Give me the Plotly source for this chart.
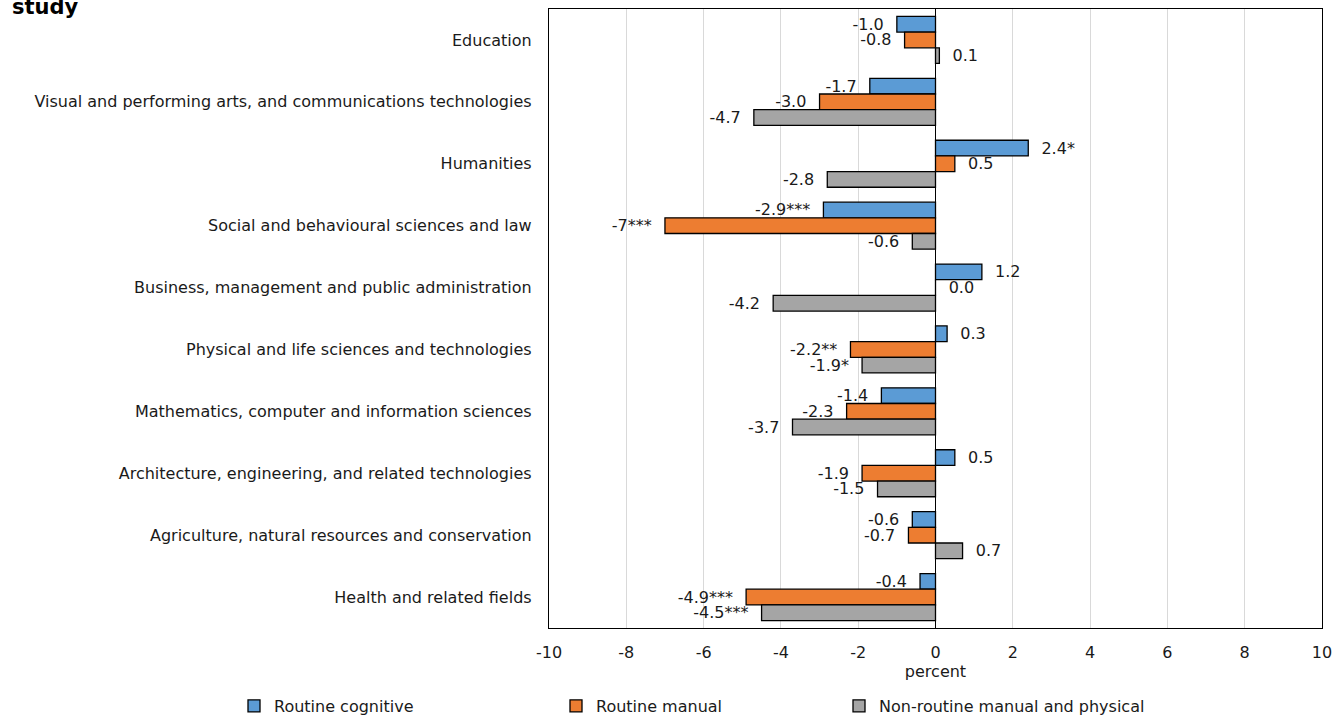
import plotly.graph_objects as go

categories = [
    "Education",
    "Visual and performing arts, and communications technologies",
    "Humanities",
    "Social and behavioural sciences and law",
    "Business, management and public administration",
    "Physical and life sciences and technologies",
    "Mathematics, computer and information sciences",
    "Architecture, engineering, and related technologies",
    "Agriculture, natural resources and conservation",
    "Health and related fields",
]

series_names = ["Routine cognitive", "Routine manual", "Non-routine manual and physical"]

routine_cognitive = [-1.0, -1.7, 2.4, -2.9, 1.2, 0.3, -1.4, 0.5, -0.6, -0.4]
routine_manual = [-0.8, -3.0, 0.5, -7.0, 0.0, -2.2, -2.3, -1.9, -0.7, -4.9]
nonroutine_manual = [0.1, -4.7, -2.8, -0.6, -4.2, -1.9, -3.7, -1.5, 0.7, -4.5]

routine_cognitive_labels = ["-1.0", "-1.7", "2.4*", "-2.9***", "1.2", "0.3", "-1.4", "0.5", "-0.6", "-0.4"]
routine_manual_labels = ["-0.8", "-3.0", "0.5", "-7***", "0.0", "-2.2**", "-2.3", "-1.9", "-0.7", "-4.9***"]
nonroutine_manual_labels = ["0.1", "-4.7", "-2.8", "-0.6", "-4.2", "-1.9*", "-3.7", "-1.5", "0.7", "-4.5***"]

colors = ["#5B9BD5", "#ED7D31", "#A5A5A5"]

x_ticks = [-10, -8, -6, -4, -2, 0, 2, 4, 6, 8, 10]

FONT = "DejaVu Sans, Verdana, sans-serif"
TXT = "#1a1a1a"
NB = "\u00a0"

plot_left, plot_w, plot_top, plot_h = 549, 773, 9, 619
legend_x_px = [234, 556, 839]
legend_keys = ["legend", "legend2", "legend3"]


def pad(label, value):
    # breathing room between bar end and its label
    return (NB * 2 + label) if value >= 0 else (label + NB * 2)


fig = go.Figure()
for name, vals, labs, col, lg in zip(
    series_names,
    [routine_cognitive, routine_manual, nonroutine_manual],
    [routine_cognitive_labels, routine_manual_labels, nonroutine_manual_labels],
    colors,
    legend_keys,
):
    fig.add_trace(go.Bar(
        y=categories, x=vals, name=name, orientation="h",
        marker=dict(color=col, line=dict(color="#000000", width=1.3)),
        text=[pad(l, v) for l, v in zip(labs, vals)],
        textposition="outside", cliponaxis=False, constraintext="none",
        textfont=dict(family=FONT, size=16, color=TXT),
        legend=lg,
    ))

legend_common = dict(
    orientation="h", y=-78 / plot_h, yanchor="middle", xanchor="left",
    font=dict(family=FONT, size=16, color=TXT),
    itemwidth=30, bgcolor="rgba(0,0,0,0)",
)

layout_legends = {
    key: dict(legend_common, x=(px - plot_left) / plot_w)
    for key, px in zip(legend_keys, legend_x_px)
}

fig.update_layout(
    width=1334, height=716,
    margin=dict(l=plot_left, r=1334 - plot_left - plot_w, t=plot_top,
                b=716 - plot_top - plot_h, autoexpand=False),
    paper_bgcolor="white", plot_bgcolor="white",
    barmode="group", bargap=0.24, bargroupgap=0,
    font=dict(family=FONT, size=16, color=TXT),
    showlegend=True,
    xaxis=dict(
        range=[-10, 10], tickvals=x_ticks, ticktext=[str(v) for v in x_ticks],
        showgrid=True, gridcolor="#d9d9d9", gridwidth=1,
        zeroline=True, zerolinecolor="#000000", zerolinewidth=1.3,
        showline=True, linecolor="#000000", linewidth=1.3, mirror=True,
        ticks="", automargin=False, ticklabelstandoff=10,
        title=dict(text="percent", font=dict(family=FONT, size=16, color=TXT), standoff=3),
        tickfont=dict(family=FONT, size=16, color=TXT),
    ),
    yaxis=dict(
        autorange="reversed", showline=True, linecolor="#000000", linewidth=1.3, mirror=True,
        showgrid=False, ticks="", ticklabelstandoff=13, automargin=False,
        tickfont=dict(family=FONT, size=16, color=TXT),
    ),
    **layout_legends,
)

fig.add_annotation(
    text="<b>study</b>", xref="paper", yref="paper",
    x=(10 - plot_left) / plot_w, xanchor="left",
    y=1 + (plot_top - 7) / plot_h, yanchor="middle",
    showarrow=False, font=dict(family=FONT, size=21, color="#000000"),
)

fig.write_html("out.html")
